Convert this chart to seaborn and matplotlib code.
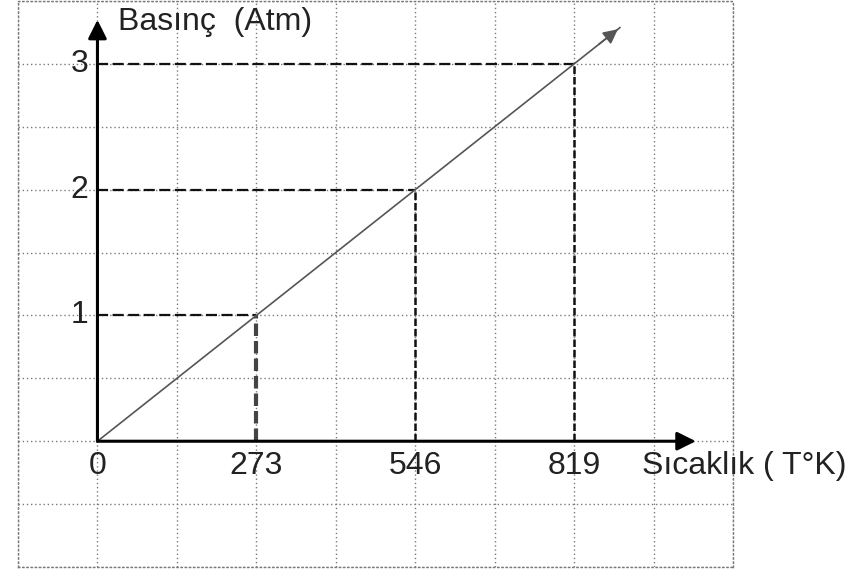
import matplotlib
matplotlib.use("Agg")
import matplotlib.pyplot as plt
import seaborn as sns
import pandas as pd
from matplotlib.ticker import MultipleLocator

# Data
temps = [0, 273, 546, 819]          # Sıcaklık (K)
pressures = [0, 1, 2, 3]            # Basınç (Atm)
x_tick_labels = ["0", "273", "546", "819"]
y_tick_labels = ["1", "2", "3"]
line_end_temp = 898                  # diagonal arrow tip

sns.set_theme(style="white")
plt.rcParams['font.family'] = ['Liberation Sans', 'DejaVu Sans']

fig = plt.figure(figsize=(8.63, 5.77), dpi=100)
ax = fig.add_axes([18/863, 10/577, (733-18)/863, (567-1)/577])
ax.set_xlim(-136.5, 1092)
ax.set_ylim(-1.0, 3.5)

# grid
ax.xaxis.set_major_locator(MultipleLocator(136.5))
ax.yaxis.set_major_locator(MultipleLocator(0.5))
ax.grid(True, linestyle=(0, (1, 2)), color="#7a7a7a", linewidth=1.0)
ax.tick_params(length=0, labelbottom=False, labelleft=False)
for s in ax.spines.values():
    s.set_linestyle((0, (1, 2)))
    s.set_color("#7a7a7a")
    s.set_linewidth(1.0)

# diagonal line
slope = pressures[-1] / temps[-1]
diag = pd.DataFrame({"T": [0, line_end_temp], "P": [0, line_end_temp * slope]})
sns.lineplot(data=diag, x="T", y="P", ax=ax, color="#555555", linewidth=1.2,
             estimator=None, sort=False, zorder=4)
ax.annotate("", xy=(line_end_temp, line_end_temp * slope),
            xytext=(line_end_temp - 40, (line_end_temp - 40) * slope),
            arrowprops=dict(arrowstyle="-|>", color="#555555", lw=1.2, mutation_scale=22),
            zorder=5)

# dashed guide lines
for i, (t, p) in enumerate(zip(temps[1:], pressures[1:])):
    hd = pd.DataFrame({"T": [0, t], "P": [p, p]})
    sns.lineplot(data=hd, x="T", y="P", ax=ax, color="#111111", linewidth=1.6,
                 linestyle=(0, (5, 2)), estimator=None, sort=False, zorder=3)
    vd = pd.DataFrame({"T": [t, t], "P": [0, p]})
    sns.lineplot(data=vd, x="T", y="P", ax=ax,
                 color="#444444" if i == 0 else "#111111",
                 linewidth=3.0 if i == 0 else 1.8,
                 linestyle=(0, (3, 1.2)), estimator=None, sort=False, zorder=3)

# axes arrows
ax.annotate("", xy=(0, 3.35), xytext=(0, 0),
            arrowprops=dict(arrowstyle="-|>", color="black", lw=2.2, mutation_scale=28,
                            shrinkA=0, shrinkB=0), zorder=6)
ax.annotate("", xy=(1028, 0), xytext=(0, 0),
            arrowprops=dict(arrowstyle="-|>", color="black", lw=2.2, mutation_scale=28,
                            shrinkA=0, shrinkB=0), zorder=6)

ax.set_xlabel("")
ax.set_ylabel("")

# tick labels
fs = 23
for t, lab in zip(temps, x_tick_labels):
    ax.text(t, -0.2, lab, ha="center", va="center", fontsize=fs, color="#222222")
for p, lab in zip(pressures[1:], y_tick_labels):
    ax.text(-15, p, lab, ha="right", va="center", fontsize=fs, color="#222222")

ax.text(936, -0.2, "Sıcaklık ( T°K)", ha="left", va="center", fontsize=fs,
        color="#222222", clip_on=False)
ax.text(35, 3.33, "Basınç  (Atm)", ha="left", va="center", fontsize=fs,
        color="#222222")

fig.savefig("out.png", dpi=100)
